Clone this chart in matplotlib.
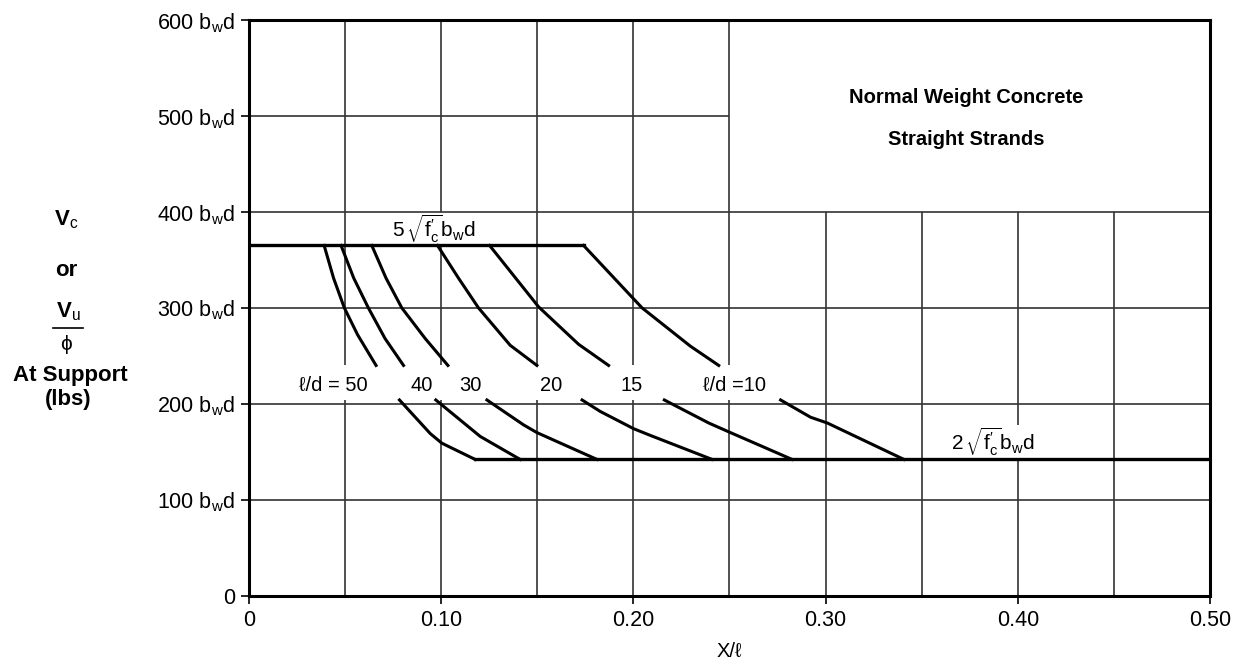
import matplotlib
matplotlib.use("Agg")
from matplotlib import pyplot as plt
from matplotlib.lines import Line2D

plt.rcParams['font.family'] = ['Liberation Sans', 'DejaVu Sans']
plt.rcParams['mathtext.fontset'] = 'custom'
plt.rcParams['mathtext.rm'] = 'Liberation Sans'
plt.rcParams['mathtext.it'] = 'Liberation Sans:italic'
plt.rcParams['mathtext.bf'] = 'Liberation Sans:bold'

# values
ld_ratios = [50, 40, 30, 20, 15, 10]
v_max = 365   # 5 sqrt(f'c) bw d
v_min = 142   # 2 sqrt(f'c) bw d

# upper branch of each l/d curve (from the 5 sqrt(f'c) plateau downward)
upper_x = [
    [0.0391, 0.0440, 0.0496, 0.0565, 0.0661],
    [0.0479, 0.0545, 0.0621, 0.0708, 0.0804],
    [0.0639, 0.0713, 0.0795, 0.0917, 0.1035],
    [0.0981, 0.1090, 0.1194, 0.1359, 0.1498],
    [0.1252, 0.1507, 0.1715, 0.1871],
    [0.1741, 0.2045, 0.2297, 0.2444],
]
upper_y = [
    [365, 331, 300, 272, 240],
    [365, 331, 300, 268, 240],
    [365, 331, 300, 268, 240],
    [365, 331, 300, 261, 240],
    [365, 301, 262, 240],
    [365, 300, 260, 240],
]

# lower branch of each l/d curve (down to the 2 sqrt(f'c) floor)
lower_x = [
    [0.0783, 0.0943, 0.1003, 0.1177],
    [0.0972, 0.1203, 0.1411],
    [0.1238, 0.1429, 0.1498, 0.1811],
    [0.1733, 0.1828, 0.2002, 0.2089, 0.2410],
    [0.2161, 0.2392, 0.2505, 0.2826],
    [0.2766, 0.2922, 0.3009, 0.3408],
]
lower_y = [
    [204, 169, 159, 142],
    [204, 166, 142],
    [204, 178, 170, 142],
    [204, 192, 174, 167, 142],
    [204, 180, 170, 142],
    [204, 186, 180, 142],
]

x_ticks = [0, 0.10, 0.20, 0.30, 0.40, 0.50]
x_ticklabels = ['0', '0.10', '0.20', '0.30', '0.40', '0.50']
y_ticks = [0, 100, 200, 300, 400, 500, 600]
y_ticklabels = ['0'] + [r'%d b$_\mathrm{w}$d' % v for v in y_ticks[1:]]

ld_label_x = [0.0437, 0.0896, 0.115, 0.1571, 0.1989, 0.2526]
ld_label_text = [u'\u2113/d = 50', '40', '30', '20', '15', u'\u2113/d =10']

fig = plt.figure(figsize=(12.4, 6.63), dpi=100)
ax = fig.add_axes([0.2008, 0.1015, 0.775, 0.8683])
ax.set_xlim(0, 0.5)
ax.set_ylim(0, 600)

# grid, drawn by hand because parts of it are left blank
gcol = '#333333'
ax.hlines([100, 200, 300, 400], 0, 0.5, color=gcol, lw=1.2, zorder=2.5)
ax.hlines(500, 0, 0.25, color=gcol, lw=1.2, zorder=2.5)
for gx in [0.05, 0.10, 0.15, 0.20, 0.25]:
    ax.vlines(gx, 0, 204, color=gcol, lw=1.2, zorder=1)
    ax.vlines(gx, 240, 600, color=gcol, lw=1.2, zorder=1)
for gx in [0.30, 0.35, 0.40, 0.45]:
    ax.vlines(gx, 0, 400, color=gcol, lw=1.2, zorder=1)

# plateaus
ax.plot([0, upper_x[-1][0]], [v_max, v_max], color='k', lw=2.4, zorder=3)
ax.plot([lower_x[0][-1], 0.5], [v_min, v_min], color='k', lw=2.4, zorder=3)

for i in range(len(ld_ratios)):
    ax.plot(upper_x[i], upper_y[i], color='k', lw=2.2, zorder=3,
            solid_joinstyle='round')
    ax.plot(lower_x[i], lower_y[i], color='k', lw=2.2, zorder=3,
            solid_joinstyle='round')

for lx, lt in zip(ld_label_x, ld_label_text):
    ax.text(lx, 219, lt, fontsize=14.5, ha='center', va='center', zorder=2)

box = dict(facecolor='white', edgecolor='none', pad=1)
ax.text(0.0745, 382, r"5$\,\sqrt{\mathrm{f}_\mathrm{c}'}\mathrm{b}_\mathrm{w}\mathrm{d}$",
        fontsize=15, ha='left', va='center', bbox=box, zorder=2)
ax.text(0.3655, 160, r"2$\,\sqrt{\mathrm{f}_\mathrm{c}'}\mathrm{b}_\mathrm{w}\mathrm{d}$",
        fontsize=15, ha='left', va='center', bbox=box, zorder=2)

ax.text(0.3734, 519, 'Normal Weight Concrete', fontsize=14.5, fontweight='bold',
        ha='center', va='center')
ax.text(0.3734, 475, 'Straight Strands', fontsize=14.5, fontweight='bold',
        ha='center', va='center')

ax.set_xticks(x_ticks)
ax.set_xticklabels(x_ticklabels, fontsize=15.5)
ax.set_yticks(y_ticks)
ax.set_yticklabels(y_ticklabels, fontsize=15.5)
ax.tick_params(direction='out', length=6, width=1.2, pad=4)
for s in ax.spines.values():
    s.set_linewidth(2.2)
ax.set_xlabel(u'X/\u2113', fontsize=14.5, labelpad=8)

# y-axis caption on the left
def ftxt(px, py, s, **kw):
    fig.text(px / 1240, 1 - py / 663, s, ha='center', va='center', **kw)

ftxt(66, 220, r'$\mathbf{V}_\mathrm{c}$', fontsize=16)
ftxt(66, 270, 'or', fontsize=16, fontweight='bold')
ftxt(68, 312, r'$\mathbf{V}_\mathrm{u}$', fontsize=16)
fig.add_artist(Line2D([53 / 1240, 83 / 1240], [1 - 328 / 663] * 2,
                      transform=fig.transFigure, color='k', lw=1.2))
ftxt(66, 344, u'\u03d5', fontsize=15)
ftxt(70, 375, 'At Support', fontsize=16, fontweight='bold')
ftxt(68, 400, '(lbs)', fontsize=16, fontweight='bold')

fig.savefig('out.png', dpi=100)
